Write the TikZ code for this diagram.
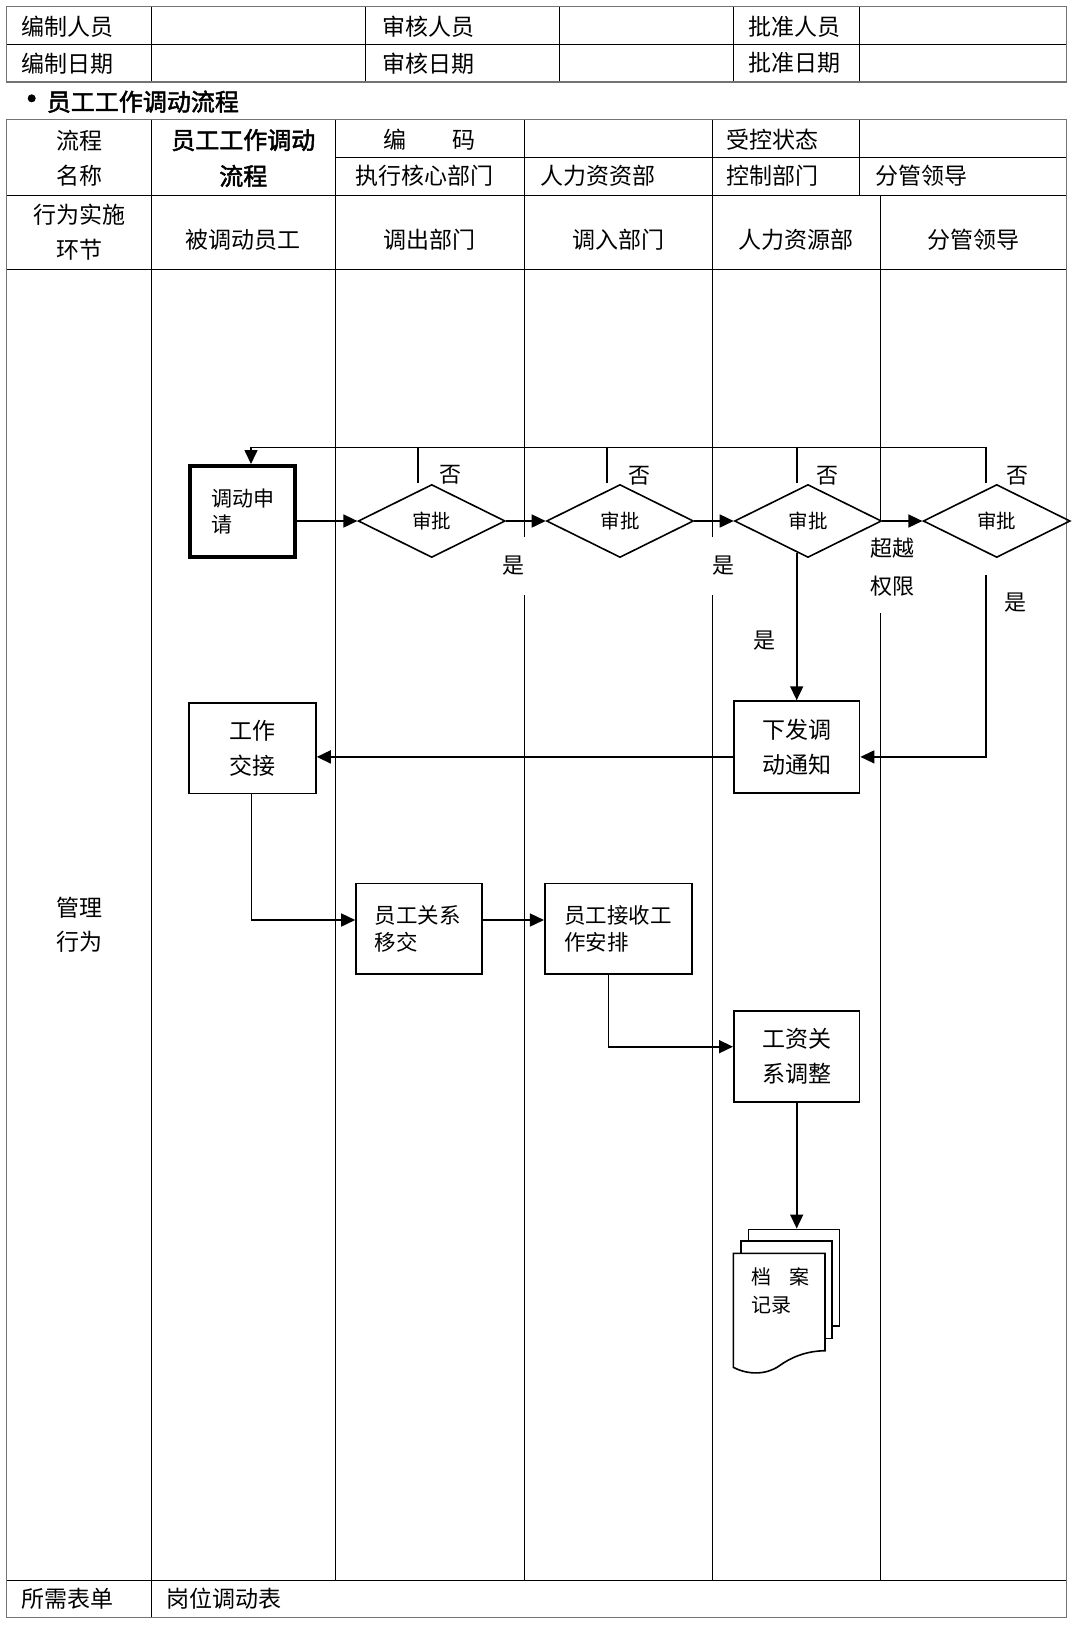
\documentclass[tikz,border=0pt]{standalone}
\usepackage{fontspec}
\setmainfont{Noto Sans CJK SC}[AutoFakeBold=2]
\usetikzlibrary{arrows.meta,shapes.geometric}
\tikzset{
  outer/.style={line width=1.5pt, draw=black!55},
  grid/.style={line width=1pt, draw=black},
  tt/.style={font={\fontsize{23}{35}\selectfont}, inner sep=0pt, align=center},
  ttl/.style={tt, anchor=west},
  ttb/.style={font={\fontsize{24}{36}\selectfont\bfseries}, inner sep=0pt, align=center},
  box/.style={draw, line width=1.6pt, rectangle, inner sep=0pt, align=center, font={\fontsize{23}{35}\selectfont}},
  sbox/.style={draw, line width=1.6pt, rectangle, inner sep=0pt, align=left, font={\fontsize{21.5}{27.5}\selectfont}},
  dec/.style={draw, diamond, line width=1.6pt, minimum width=147pt, minimum height=73pt, inner sep=0pt, font={\fontsize{19.5}{20}\selectfont}},
  arr/.style={line width=1.6pt, -{Triangle[length=14pt,width=13pt]}},
  conn/.style={line width=1.6pt},
  lab/.style={font={\fontsize{22}{38}\selectfont}, inner sep=0pt, align=center},
  wlab/.style={lab, fill=white},
  page/.style={draw, fill=white, line width=1.6pt, rectangle, inner sep=0pt},
}
\begin{document}
\begin{tikzpicture}[x=1pt,y=-1pt]
\useasboundingbox (0,0) rectangle (1080,1626);
\fill[white] (0,0) rectangle (1080,1626);

% ---------- top table ----------
\draw[grid] (6.7,44.3) -- (1066.7,44.3);
\foreach \x in {151.7,365,559,733.3,859.3} \draw[grid] (\x,6.7) -- (\x,82);
\draw[outer] (6.7,6.7) rectangle (1066.7,82);
\node[ttl] (t11) at (21.7,26.7) {编制人员};
\node[ttl] (t12) at (382,26.7) {审核人员};
\node[ttl] (t13) at (748.3,26.7) {批准人员};
\node[ttl] (t21) at (21.7,63.3) {编制日期};
\node[ttl] (t22) at (382,63.3) {审核日期};
\node[ttl] (t23) at (748.3,63.3) {批准日期};

% ---------- title ----------
\node[ttb, font={\fontsize{34}{36}\selectfont\bfseries}] (bul) at (31.7,103) {•};
\node[ttb, anchor=west] (title) at (46.7,101.7) {员工工作调动流程};

% ---------- lower table ----------
\draw[grid] (335,157.3) -- (1066.7,157.3);
\draw[grid] (6.7,195) -- (1066.7,195);
\draw[grid] (6.7,269.3) -- (1066.7,269.3);
\draw[grid] (6.7,1580) -- (1066.7,1580);
\draw[grid] (151.7,119.3) -- (151.7,1617.3);
\foreach \x in {335,524,712} \draw[grid] (\x,119.3) -- (\x,1580);
\draw[grid] (859.3,119.3) -- (859.3,195);
\draw[grid] (880,195) -- (880,1580);
\draw[outer] (6.7,119.3) rectangle (1066.7,1617.3);

\node[tt] (lcmc) at (79.2,158) {流程\\名称};
\node[ttb] (lcname) at (243.3,158) {员工工作调动\\流程};
\node[tt] (bianma) at (429.5,140) {编\hspace{46pt}码};
\node[ttl] (skzt) at (726.7,140) {受控状态};
\node[tt] (zxhx) at (424,176) {执行核心部门};
\node[ttl] (rlzz) at (540,176) {人力资资部};
\node[ttl] (kzbm) at (726,176) {控制部门};
\node[ttl] (fgld1) at (875,176) {分管领导};
\node[tt] (xwss) at (79.2,232.5) {行为实施\\环节};
\node[tt] (h1) at (243.3,240) {被调动员工};
\node[tt] (h2) at (429.5,240) {调出部门};
\node[tt] (h3) at (618,240) {调入部门};
\node[tt] (h4) at (796,240) {人力资源部};
\node[tt] (h5) at (973.5,240) {分管领导};
\node[tt, font={\fontsize{23}{34}\selectfont}] (glxw) at (79.2,925) {管理\\行为};
\node[ttl] (sxbd) at (21.7,1598.7) {所需表单};
\node[ttl] (gwdd) at (166.7,1598.7) {岗位调动表};

% ---------- labels with white background (cover lane lines) ----------
\node[wlab, minimum width=34pt, minimum height=58pt] (yes1) at (513,566) {是};
\node[wlab, minimum width=34pt, minimum height=58pt] (yes2) at (723,566) {是};
\node[wlab, minimum width=52pt, minimum height=92pt] (over) at (892,567) {超越\\权限};
\node[lab] (yes3) at (764,641) {是};
\node[lab] (yes4) at (1015,603) {是};
\node[lab] (no1) at (450,475) {否};
\node[lab] (no2) at (639,476) {否};
\node[lab] (no3) at (827,476) {否};
\node[lab] (no4) at (1017,476) {否};

% ---------- flow nodes ----------
\node[draw, line width=4pt, rectangle, inner sep=0pt, minimum width=105pt, minimum height=91pt,
      text width=63pt, align=left, font={\fontsize{21}{26.7}\selectfont}] (apply) at (242.5,511.5) {调动申\\请};
\node[dec] (d1) at (431.7,521) {审批};
\node[dec] (d2) at (620,521) {审批};
\node[dec] (d3) at (808,521) {审批};
\node[dec] (d4) at (996.7,521) {审批};
\node[box, minimum width=126.7pt, minimum height=90.6pt] (handover) at (252.6,748) {工作\\交接};
\node[box, minimum width=125.8pt, minimum height=91.7pt] (notify) at (796.7,746.9) {下发调\\动通知};
\node[sbox, minimum width=126.2pt, minimum height=90.7pt, text width=89pt] (transfer) at (419.1,928.7) {员工关系\\移交};
\node[sbox, minimum width=147.3pt, minimum height=90.7pt, text width=108pt] (receive) at (618.4,928.7) {员工接收工\\作安排};
\node[box, minimum width=125.8pt, minimum height=90.7pt] (salary) at (796.7,1056.4) {工资关\\系调整};

% document stack
\node[page, minimum width=91pt, minimum height=96.7pt] (arch3) at (793.8,1277.65) {};
\node[page, minimum width=90.7pt, minimum height=97.3pt] (arch2) at (786.35,1289.65) {};
\draw[line width=1.6pt, fill=white] (733.3,1253.3) -- (825,1253.3) -- (825,1350.7)
   .. controls (805,1351) and (790,1358) .. (779,1366)
   .. controls (766,1375) and (748,1375) .. (733.3,1367.3) -- cycle;
\node[lab, anchor=west, align=left, font={\fontsize{20}{28.3}\selectfont}] (archtxt) at (751.7,1290.9) {档\hspace{18pt}案\\记录};

% ---------- connectors ----------
\coordinate (fbR) at (986,447.3);
\coordinate (fbL) at (251,447.3);
\coordinate (s1) at (418,483);
\coordinate (s2) at (607,483);
\coordinate (s3) at (796.7,483);
\coordinate (s4) at (986,483);
\coordinate (d3o) at (796.7,553);
\coordinate (d4o) at (986,575);

\draw[arr] (apply.east |- d1.west) -- (d1.west);
\draw[arr] (d1.east) -- (d2.west);
\draw[arr] (d2.east) -- (d3.west);
\draw[arr] (d3.east) -- (d4.west);
\draw[arr] (s4) -- (fbR) -- (fbL) -- (fbL |- apply.north);
\draw[conn] (s1) -- (s1 |- fbR);
\draw[conn] (s2) -- (s2 |- fbR);
\draw[conn] (s3) -- (s3 |- fbR);
\draw[arr] (d3o) -- (notify.north);
\draw[arr] (d4o) |- ([yshift=-10pt]notify.east);
\draw[arr] ([yshift=-10pt]notify.west) -- ([yshift=-10pt]notify.west -| handover.east);
\draw[arr] ([xshift=-1.3pt]handover.south) |- ([yshift=8.7pt]transfer.west);
\draw[arr] ([yshift=8.7pt]transfer.east) -- ([yshift=8.7pt]transfer.east -| receive.west);
\draw[arr] ([xshift=-10pt]receive.south) |- ([yshift=9.7pt]salary.west);
\draw[arr] (salary.south) -- (salary.south |- arch3.north);
\end{tikzpicture}
\end{document}
